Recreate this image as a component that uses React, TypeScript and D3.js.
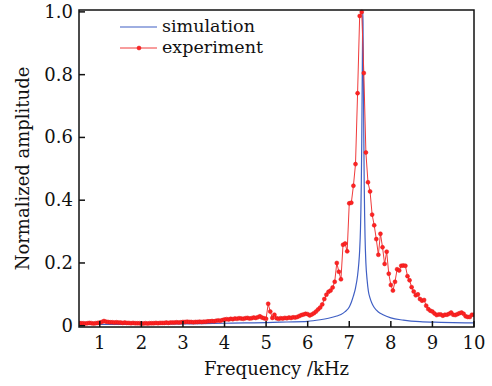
import React from 'react';
import * as d3 from 'd3';

// measured amplitude, one sample every 0.05 kHz starting at 0.5 kHz
const expStart = 0.5;
const expStep = 0.05;
const expAmp = [
  0.009, 0.008, 0.008, 0.007, 0.008, 0.009, 0.008, 0.007, 0.008, 0.009, 0.010,
  0.012, 0.015, 0.013, 0.012, 0.011, 0.011, 0.010, 0.011, 0.010, 0.010,
  0.009, 0.010, 0.009, 0.009, 0.008, 0.009, 0.008, 0.008, 0.008, 0.007,
  0.007, 0.008, 0.007, 0.008, 0.008, 0.008, 0.009, 0.008, 0.009, 0.009,
  0.009, 0.010, 0.009, 0.010, 0.010, 0.010, 0.011, 0.010, 0.011, 0.012,
  0.012, 0.013, 0.012, 0.012, 0.011, 0.012, 0.012, 0.013, 0.012, 0.013,
  0.013, 0.014, 0.014, 0.015, 0.014, 0.016, 0.017, 0.016, 0.018, 0.020,
  0.021, 0.020, 0.022, 0.021, 0.023, 0.022, 0.024, 0.023, 0.022, 0.024,
  0.025, 0.023, 0.024, 0.026, 0.025, 0.027, 0.030, 0.026, 0.024, 0.022,
  0.070, 0.045, 0.025, 0.035, 0.024, 0.022, 0.024, 0.023, 0.025, 0.024,
  0.026, 0.025, 0.027, 0.026, 0.028, 0.031, 0.034, 0.036, 0.038, 0.037,
  0.033, 0.036, 0.040, 0.045, 0.052, 0.058, 0.068, 0.085, 0.099, 0.108,
  0.112, 0.122, 0.140, 0.200, 0.172, 0.148, 0.258, 0.262, 0.237, 0.390,
  0.392, 0.446, 0.515, 0.741, 0.987, 1.000, 0.805, 0.552, 0.457, 0.428,
  0.354, 0.320, 0.276, 0.226, 0.293, 0.250, 0.197, 0.236, 0.166, 0.130,
  0.112, 0.140, 0.180, 0.176, 0.191, 0.192, 0.191, 0.158, 0.145, 0.123,
  0.109, 0.097, 0.100, 0.085, 0.080, 0.082, 0.064, 0.053, 0.048, 0.045,
  0.039, 0.034, 0.036, 0.036, 0.032, 0.035, 0.035, 0.038, 0.042, 0.035,
  0.034, 0.037, 0.040, 0.042, 0.038, 0.030, 0.028, 0.028, 0.035, 0.035,
];

// simulated response: [kHz, amplitude]
const simPoints: [number, number][] = [
  [0.5, 0.004], [1, 0.004], [2, 0.005], [3, 0.006], [4, 0.008], [4.5, 0.009],
  [5, 0.010], [5.5, 0.012], [6, 0.014], [6.3, 0.019], [6.5, 0.024], [6.7, 0.031],
  [6.8, 0.036], [6.9, 0.045], [7.0, 0.060], [7.05, 0.075], [7.1, 0.095],
  [7.15, 0.12], [7.2, 0.16], [7.23, 0.20], [7.25, 0.24], [7.27, 0.31],
  [7.28, 0.37], [7.29, 0.46], [7.3, 0.58], [7.31, 0.75], [7.32, 0.92],
  [7.325, 1.0], [7.33, 0.97], [7.34, 0.80], [7.35, 0.60], [7.36, 0.45],
  [7.37, 0.35], [7.38, 0.28], [7.4, 0.20], [7.43, 0.145], [7.46, 0.11],
  [7.5, 0.088], [7.55, 0.07], [7.6, 0.058], [7.7, 0.044], [7.8, 0.036],
  [8.0, 0.025], [8.3, 0.018], [8.7, 0.013], [9.2, 0.011], [10, 0.009],
];

const xTicks = [1, 2, 3, 4, 5, 6, 7, 8, 9, 10];
const yTicks = [0, 0.2, 0.4, 0.6, 0.8, 1.0];
const yTickLabels = ['0', '0.2', '0.4', '0.6', '0.8', '1.0'];

const W = 492, H = 386;
const box = {left: 79, right: 474, top: 10, bottom: 327};
const font = '"DejaVu Serif", serif';
const red = '#f03a3a';
const blue = '#3f5fc4';

export default function App() {
  const x = d3.scaleLinear().domain([0.5, 10]).range([box.left, box.right]);
  const y = d3.scaleLinear().domain([-0.004, 1.006]).range([box.bottom, box.top]);

  const expData: [number, number][] = expAmp.map((a, i) => [expStart + i * expStep, a]);

  const line = d3.line<[number, number]>().x(d => x(d[0])).y(d => y(d[1]));
  const simLine = d3.line<[number, number]>().x(d => x(d[0])).y(d => y(d[1])).curve(d3.curveMonotoneX);

  return (
    <svg width={W} height={H} style={{position: 'absolute', left: 0, top: 0, background: '#fff'}}>
      <defs>
        <clipPath id="plotArea">
          <rect x={box.left} y={box.top - 2} width={box.right - box.left} height={box.bottom - box.top + 2} />
        </clipPath>
      </defs>

      <g clipPath="url(#plotArea)">
        <path d={simLine(simPoints) || ''} fill="none" stroke={blue} strokeWidth={1.2} />
        <path d={line(expData) || ''} fill="none" stroke={red} strokeWidth={1} />
        {expData.map((d, i) => (
          <circle key={i} cx={x(d[0])} cy={y(d[1])} r={2} fill="#f22" stroke="#e01818" strokeWidth={0.5} />
        ))}
      </g>

      {/* frame */}
      <rect x={box.left} y={box.top} width={box.right - box.left} height={box.bottom - box.top}
            fill="none" stroke="#111" strokeWidth={1.5} />

      {/* x axis */}
      {xTicks.map(t => (
        <g key={t}>
          <line x1={x(t)} x2={x(t)} y1={box.bottom} y2={box.bottom - 6} stroke="#111" strokeWidth={1.5} />
          <text x={x(t)} y={349} textAnchor="middle" fontFamily={font} fontSize={18} fill="#111">{t}</text>
        </g>
      ))}

      {/* y axis */}
      {yTicks.map((t, i) => (
        <g key={t}>
          <line x1={box.left} x2={box.left + 6} y1={y(t)} y2={y(t)} stroke="#111" strokeWidth={1.5} />
          <text x={box.left - 6} y={y(t) + 6} textAnchor="end" fontFamily={font} fontSize={18} fill="#111">
            {yTickLabels[i]}
          </text>
        </g>
      ))}

      <text x={(box.left + box.right) / 2} y={375} textAnchor="middle" fontFamily={font} fontSize={18} fill="#111">
        Frequency /kHz
      </text>
      <text transform={`translate(29,${(box.top + box.bottom) / 2}) rotate(-90)`} textAnchor="middle"
            fontFamily={font} fontSize={18} fill="#111">
        Normalized amplitude
      </text>

      {/* legend */}
      <line x1={120} x2={157} y1={27} y2={27} stroke={blue} strokeWidth={1.2} />
      <text x={162} y={32} fontFamily={font} fontSize={17.5} fill="#111">simulation</text>
      <line x1={120} x2={157} y1={48} y2={48} stroke={red} strokeWidth={1} />
      <circle cx={139} cy={48} r={2} fill="#f22" stroke="#e01818" strokeWidth={0.5} />
      <text x={162} y={53} fontFamily={font} fontSize={17.5} fill="#111">experiment</text>
    </svg>
  );
}
